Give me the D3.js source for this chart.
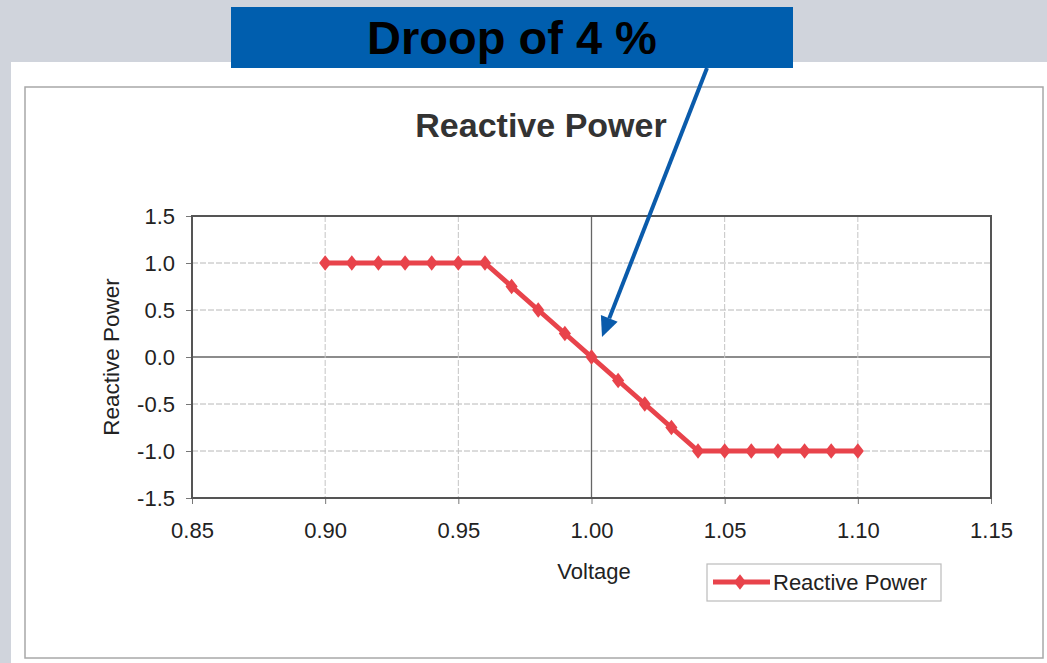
<!DOCTYPE html>
<html><head><meta charset="utf-8">
<script src="https://cdn.jsdelivr.net/npm/d3@7"></script>
<style>body{margin:0;background:#d0d4dc;}svg{display:block;font-family:"Liberation Sans",Arial,sans-serif;}</style>
</head><body>
<svg id="c" width="1047" height="663"></svg>
<script>
const voltage = [0.90,0.91,0.92,0.93,0.94,0.95,0.96,0.97,0.98,0.99,1.00,1.01,1.02,1.03,1.04,1.05,1.06,1.07,1.08,1.09,1.10];
const reactive = [1,1,1,1,1,1,1,0.75,0.5,0.25,0,-0.25,-0.5,-0.75,-1,-1,-1,-1,-1,-1,-1];
const xTicks = [0.85,0.90,0.95,1.00,1.05,1.10,1.15];
const yTicks = [1.5,1.0,0.5,0.0,-0.5,-1.0,-1.5];
const title = "Reactive Power", xLabel = "Voltage", yLabel = "Reactive Power", seriesName = "Reactive Power";
const callout = "Droop of 4 %";

const svg = d3.select("#c");
svg.append("rect").attr("x",0).attr("y",0).attr("width",1047).attr("height",663).attr("fill","#d0d4dc");
svg.append("rect").attr("x",11).attr("y",62).attr("width",1036).attr("height",601).attr("fill","#fff");
svg.append("rect").attr("x",25).attr("y",87).attr("width",1018).attr("height",571).attr("fill","none").attr("stroke","#a8a8a8").attr("stroke-width",1.5);

const L=192,R=991,T=216,B=498;
const x = d3.scaleLinear().domain([0.85,1.15]).range([L,R]);
const y = d3.scaleLinear().domain([-1.5,1.5]).range([B,T]);

// gridlines
const g = svg.append("g");
g.selectAll(".hg").data(yTicks).join("line")
 .attr("x1",L).attr("x2",R).attr("y1",d=>y(d)).attr("y2",d=>y(d))
 .attr("stroke",d=>d===0?"#666":"#b8b8b8").attr("stroke-width",d=>d===0?1.3:1)
 .attr("stroke-dasharray",d=>d===0?null:"6,2");
g.selectAll(".vg").data(xTicks.slice(1,-1)).join("line")
 .attr("y1",T).attr("y2",B).attr("x1",d=>x(d)).attr("x2",d=>x(d))
 .attr("stroke",d=>d===1?"#666":"#c4c4c4").attr("stroke-width",d=>d===1?1.3:1)
 .attr("stroke-dasharray",d=>d===1?null:"6,2");

// axes
const ya = svg.append("g").attr("transform",`translate(${L},0)`)
 .call(d3.axisLeft(y).tickValues(yTicks).tickFormat(d=>d.toFixed(1)).tickSize(6).tickPadding(11));
const xa = svg.append("g").attr("transform",`translate(0,${B})`)
 .call(d3.axisBottom(x).tickValues(xTicks).tickFormat(d=>d.toFixed(2)).tickSize(6).tickPadding(18));
[ya,xa].forEach(a=>{a.select(".domain").remove();a.selectAll("line").attr("stroke","#777");
 a.selectAll("text").attr("font-size",22).attr("fill","#222").attr("font-family","Liberation Sans, Arial, sans-serif");});

svg.append("rect").attr("x",L).attr("y",T).attr("width",R-L).attr("height",B-T)
 .attr("fill","none").attr("stroke","#555").attr("stroke-width",2);

// line
const data = voltage.map((v,i)=>({x:v,y:reactive[i]}));
const red="#e8434b";
svg.append("path").datum(data).attr("fill","none").attr("stroke",red).attr("stroke-width",5)
 .attr("stroke-linejoin","round").attr("d",d3.line().x(d=>x(d.x)).y(d=>y(d.y)));
const diamond = d3.symbol().type(d3.symbolDiamond).size(70);
svg.selectAll(".pt").data(data).join("path").attr("d",diamond)
 .attr("transform",d=>`translate(${x(d.x)},${y(d.y)}) scale(1.35,1)`).attr("fill",red);

// titles
svg.append("text").attr("x",541).attr("y",137).attr("text-anchor","middle").attr("font-size",34)
 .attr("font-weight","bold").attr("fill","#333").text(title);
svg.append("text").attr("x",594).attr("y",579).attr("text-anchor","middle").attr("font-size",22).attr("fill","#222").text(xLabel);
svg.append("text").attr("transform","translate(119,357) rotate(-90)").attr("text-anchor","middle")
 .attr("font-size",22.5).attr("fill","#222").text(yLabel);

// legend
const lg = svg.append("g");
lg.append("rect").attr("x",707).attr("y",564).attr("width",234).attr("height",37).attr("fill","#fff").attr("stroke","#bbb").attr("stroke-width",1.2);
lg.append("line").attr("x1",713).attr("x2",770).attr("y1",582).attr("y2",582).attr("stroke",red).attr("stroke-width",5);
lg.append("path").attr("d",diamond).attr("transform","translate(740,582) scale(1.35,1)").attr("fill",red);
lg.append("text").attr("x",773).attr("y",590).attr("font-size",22).attr("fill","#222").text(seriesName);

// callout box
svg.append("rect").attr("x",231).attr("y",7).attr("width",562).attr("height",61).attr("fill","#005eae");
svg.append("text").attr("x",512).attr("y",54).attr("text-anchor","middle").attr("font-size",47)
 .attr("font-weight","bold").attr("fill","#000").text(callout);

// arrow
const ax1=707, ay1=68, ax2=602, ay2=337;
const ang=Math.atan2(ay2-ay1,ax2-ax1), hl=20, hw=9;
const bx=ax2-hl*Math.cos(ang), by=ay2-hl*Math.sin(ang);
svg.append("line").attr("x1",ax1).attr("y1",ay1).attr("x2",bx).attr("y2",by).attr("stroke","#0a5bab").attr("stroke-width",4);
svg.append("path").attr("fill","#0a5bab").attr("d",
 `M${ax2},${ay2} L${bx+hw*Math.sin(ang)},${by-hw*Math.cos(ang)} L${bx-hw*Math.sin(ang)},${by+hw*Math.cos(ang)} Z`);
</script>
</body></html>
